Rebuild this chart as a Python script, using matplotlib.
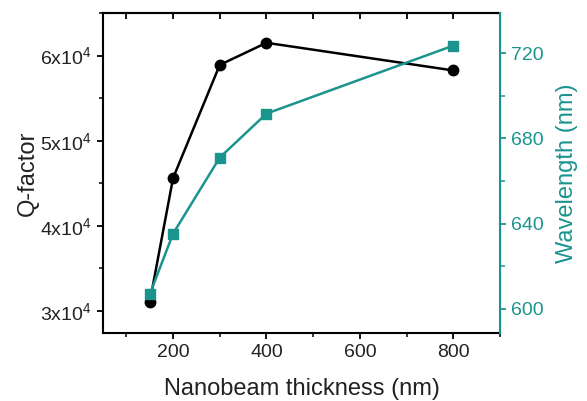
import matplotlib
matplotlib.use("Agg")
import matplotlib.pyplot as plt
from matplotlib.ticker import FixedLocator, MultipleLocator, NullFormatter

plt.rcParams['font.family'] = ['Liberation Sans', 'DejaVu Sans']
plt.rcParams['mathtext.default'] = 'regular'

thickness = [150, 200, 300, 400, 800]
q_factor = [31000, 45600, 58900, 61500, 58250]
wavelength = [606.8, 635.3, 671.0, 691.6, 723.5]
q_ticks = [30000, 40000, 50000, 60000]
q_tick_labels = ['3x10$^4$', '4x10$^4$', '5x10$^4$', '6x10$^4$']
x_ticks = [200, 400, 600, 800]
w_ticks = [600, 640, 680, 720]

teal = '#1b948e'
text_col = '#222222'

fig = plt.figure(figsize=(5.87, 4.01), dpi=100)
ax = fig.add_axes([103/587, 1-333/401, (500-103)/587, (333-13)/401])
ax2 = ax.twinx()

ax.plot(thickness, q_factor, color='black', marker='o', markersize=7.5, linewidth=1.8, zorder=3)
ax2.plot(thickness, wavelength, color=teal, marker='s', markersize=7, linewidth=1.8, zorder=3)

ax.set_xlim(50, 900)
ax.set_ylim(27400, 65000)
ax2.set_ylim(588.7, 738.8)

ax.set_xticks(x_ticks)
ax.xaxis.set_minor_locator(MultipleLocator(100))
ax.yaxis.set_major_locator(FixedLocator(q_ticks))
ax.set_yticklabels(q_tick_labels)
ax.yaxis.set_minor_locator(MultipleLocator(5000))
ax2.set_yticks(w_ticks)
ax2.yaxis.set_minor_locator(MultipleLocator(20))

# top axis with inward ticks at every 100
sec = ax.secondary_xaxis('top')
sec.xaxis.set_major_locator(MultipleLocator(100))
sec.xaxis.set_major_formatter(NullFormatter())
sec.tick_params(axis='x', which='major', direction='in', length=4, width=1.3)
sec.spines['top'].set_linewidth(1.5)

for sp in ['left', 'bottom', 'top']:
    ax.spines[sp].set_linewidth(1.5)
ax2.spines['right'].set_color(teal)
ax2.spines['right'].set_linewidth(1.5)
for sp in ['left', 'bottom', 'top']:
    ax2.spines[sp].set_visible(False)

ax.tick_params(axis='both', which='major', labelsize=14, direction='out', length=4.5, width=1.3,
               color='black', labelcolor=text_col)
ax.tick_params(axis='both', which='minor', direction='out', length=3, width=1.1)
ax.tick_params(axis='x', which='both', top=False)
ax2.tick_params(axis='y', which='major', labelsize=14, direction='out', length=4.5, width=1.3, colors=teal)
ax2.tick_params(axis='y', which='minor', direction='out', length=3.5, width=1.1, colors=teal)

ax.set_xlabel('Nanobeam thickness (nm)', fontsize=17, labelpad=12, color=text_col)
ax.set_ylabel('Q-factor', fontsize=17, labelpad=1, color=text_col)
ax2.set_ylabel('Wavelength (nm)', fontsize=17, color=teal, labelpad=9)

fig.savefig('out.png', dpi=100)
